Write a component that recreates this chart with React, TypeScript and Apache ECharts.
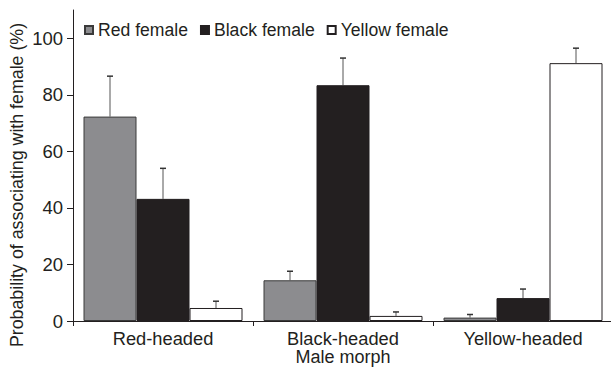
import React, { useEffect, useRef } from "react";
import * as echarts from "echarts";

const categories = ["Red-headed", "Black-headed", "Yellow-headed"];
const seriesNames = ["Red female", "Black female", "Yellow female"];
const redFemale = [72.3, 14.4, 1.2];
const blackFemale = [43.2, 83.4, 8.1];
const yellowFemale = [4.6, 1.8, 91.2];
const redErrTop = [86.6, 17.6, 2.3];
const blackErrTop = [54.0, 93.0, 11.3];
const yellowErrTop = [7.0, 3.2, 96.5];
const yTicks = [0, 20, 40, 60, 80, 100];
const yTitle = "Probability of associating with female (%)";
const xTitle = "Male morph";

const FONT = "Liberation Sans, Arial, Helvetica, sans-serif";
const TXT = "#231f20";
const BAR_W = 53;

export default function App() {
  const ref = useRef<HTMLDivElement>(null);
  useEffect(() => {
    if (!ref.current) return;
    const chart = echarts.init(ref.current, undefined, { renderer: "svg" });
    const values = [redFemale, blackFemale, yellowFemale];
    const errs = [redErrTop, blackErrTop, yellowErrTop];
    const styles = [
      { color: "#8c8c8f", borderColor: "#3a3a3a", borderWidth: 1 },
      { color: "#231f20", borderColor: "#231f20", borderWidth: 1 },
      { color: "#ffffff", borderColor: "#231f20", borderWidth: 1 },
    ];
    const barSeries = seriesNames.map((name, i) => ({
      type: "bar",
      name,
      data: values[i],
      barWidth: BAR_W,
      barGap: "0%",
      itemStyle: styles[i],
      z: 2,
    }));
    const errSeries = seriesNames.map((name, i) => ({
      type: "custom",
      name: name + " err",
      data: categories.map((_, j) => [j, values[i][j], errs[i][j]]),
      z: 1,
      renderItem: (params: any, api: any) => {
        const c = api.value(0);
        const lo = api.coord([c, api.value(1)]);
        const hi = api.coord([c, api.value(2)]);
        const x = lo[0] + (i - 1) * BAR_W;
        return {
          type: "group",
          children: [
            {
              type: "line",
              shape: { x1: x, y1: lo[1], x2: x, y2: hi[1] },
              style: { stroke: "#555", lineWidth: 1 },
            },
            {
              type: "line",
              shape: { x1: x - 3, y1: hi[1], x2: x + 3, y2: hi[1] },
              style: { stroke: "#333", lineWidth: 1.5 },
            },
          ],
        };
      },
    }));
    chart.setOption({
      animation: false,
      textStyle: { fontFamily: FONT, color: TXT },
      grid: { left: 73, right: -2, top: 10, bottom: 46, containLabel: false, outerBoundsMode: "none" },
      legend: {
        data: seriesNames,
        left: 79,
        top: 16,
        icon: "rect",
        itemWidth: 8,
        itemHeight: 8,
        itemGap: 12,
        textStyle: { fontSize: 17.6, color: TXT, fontFamily: FONT },
      },
      graphic: [
        {
          type: "text",
          x: 17,
          y: 185,
          rotation: Math.PI / 2,
          style: {
            text: yTitle,
            fontSize: 17.8,
            fontFamily: FONT,
            fill: TXT,
            align: "center",
            verticalAlign: "middle",
          },
        },
        {
          type: "text",
          x: 343,
          y: 357,
          style: {
            text: xTitle,
            fontSize: 18,
            lineHeight: 18,
            fontFamily: FONT,
            fill: TXT,
            align: "center",
            verticalAlign: "middle",
          },
        },
      ],
      xAxis: {
        type: "category",
        data: categories,
        axisLine: { lineStyle: { color: "#231f20", width: 1 } },
        axisTick: { show: true, length: 5, alignWithLabel: false, lineStyle: { color: "#231f20" } },
        axisLabel: { fontSize: 18.3, lineHeight: 18, color: TXT, margin: 8, fontFamily: FONT },
      },
      yAxis: {
        type: "value",
        min: 0,
        max: 110,
        interval: 20,
        splitLine: { show: false },
        axisLine: { show: true, lineStyle: { color: "#231f20", width: 1 } },
        axisTick: { show: true, length: 6, customValues: yTicks, lineStyle: { color: "#231f20" } },
        axisLabel: { fontSize: 18.5, color: TXT, margin: 10, customValues: yTicks, fontFamily: FONT },
      },
      series: [...barSeries, ...errSeries],
    });
    return () => chart.dispose();
  }, []);
  return <div ref={ref} style={{ width: 611, height: 367, position: "absolute", left: 0, top: 0 }} />;
}
